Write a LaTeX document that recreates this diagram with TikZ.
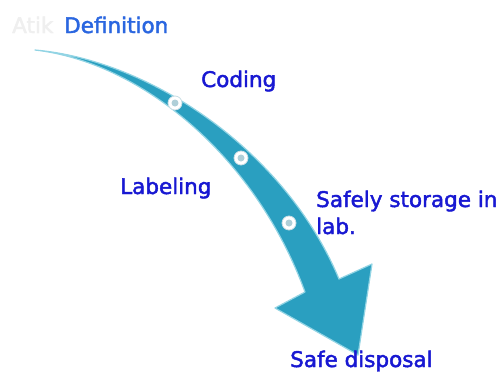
\documentclass[tikz,border=0pt]{standalone}
\usepackage{fontspec}
\setmainfont[FakeBold=2]{DejaVu Sans}
\definecolor{arrowfill}{HTML}{2A9FC0}
\definecolor{arrowedge}{HTML}{92D4E4}
\definecolor{deftext}{HTML}{2A66E0}
\definecolor{lbltext}{HTML}{1818D2}
\definecolor{ghost}{HTML}{EFEFEF}
\definecolor{dotcore}{HTML}{AFCFD8}
\tikzset{
  lbl/.style={anchor=base west, inner sep=0pt, text=lbltext, font=\fontsize{21.5}{27}\selectfont},
  dotmark/.style={circle, fill=white, draw=dotcore!70, line width=0.8pt, minimum size=14pt, inner sep=0pt,
    path picture={\fill[dotcore] (path picture bounding box.center) circle (3.5pt);}}
}
\begin{document}
\begin{tikzpicture}[x=1pt,y=-1pt]
\useasboundingbox[fill=white] (0,0) rectangle (504,381);
% curved arrow
\fill[arrowfill, draw=arrowedge, line width=1.2pt, line join=round]
  (35,50) .. controls (150,60) and (285,150) .. (339,279)
  -- (372,264) -- (358,355) -- (275,308) -- (305,292)
  .. controls (255,155) and (140,62) .. (35,50)
  -- cycle;
% dots
\node[dotmark] (d1) at (175,103) {};
\node[dotmark] (d2) at (241,158) {};
\node[dotmark] (d3) at (289,223) {};
% labels
\node[lbl, text=ghost] (ghost) at (12,33) {Atik};
\node[lbl, text=deftext] (def) at (64,33) {Definition};
\node[lbl] (cod) at (201,87) {Coding};
\node[lbl] (lab) at (120,194) {Labeling};
\node[lbl] (saf) at (316,207) {Safely storage in};
\node[lbl] (lab2) at (316,234) {lab.};
\node[lbl] (disp) at (290,367) {Safe disposal};
\end{tikzpicture}
\end{document}
